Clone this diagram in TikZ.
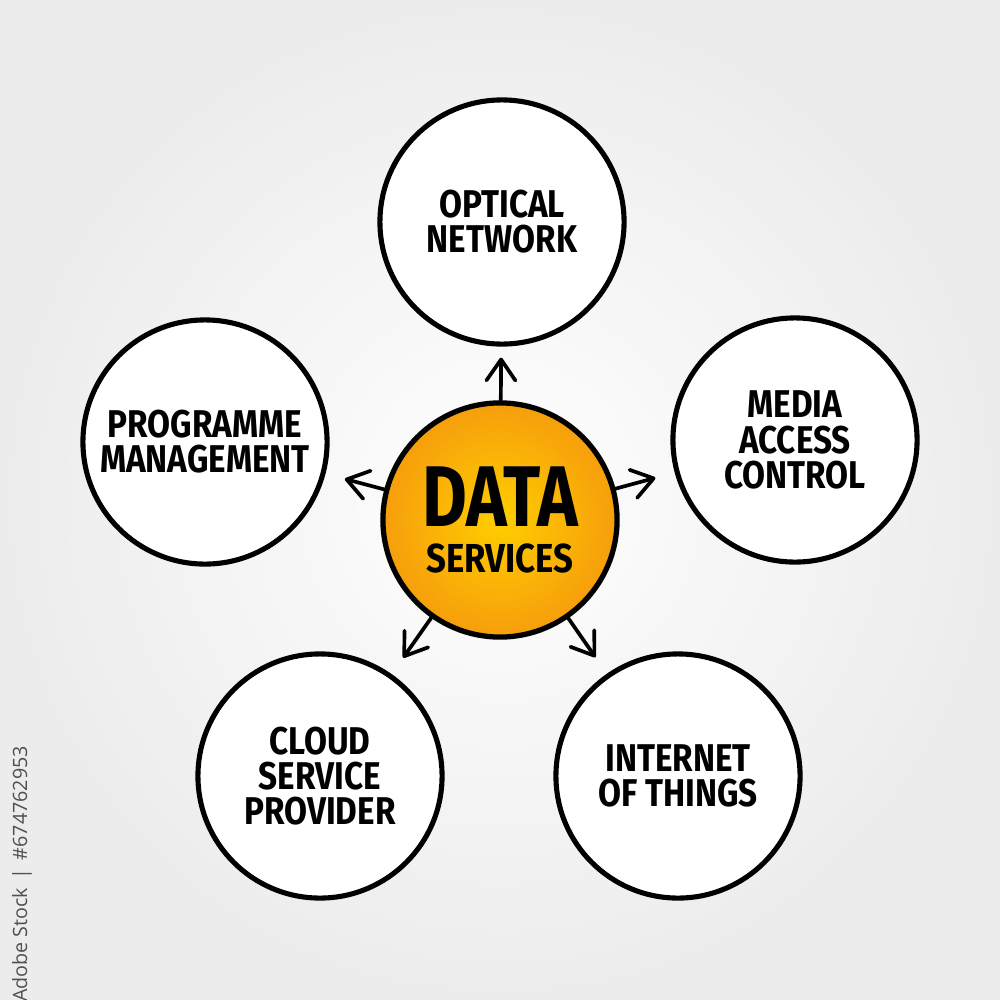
\documentclass[tikz,border=0pt]{standalone}
\usepackage{fontspec}
\usetikzlibrary{arrows.meta}
\newfontfamily\handfont{Fira Sans}[FakeStretch=0.86]
\newfontfamily\bigfont{Fira Sans}[FakeStretch=0.8]
\newfontfamily\wmfont{Open Sans}
\definecolor{bgedge}{RGB}{236,236,236}
\definecolor{coreyel}{RGB}{255,206,0}
\definecolor{coreor}{RGB}{246,158,12}
\definecolor{wmgray}{RGB}{80,80,80}
\tikzset{
  topic/.style={circle, draw=black, line width=1.45pt, fill=white,
    minimum size=2.44cm, inner sep=0pt, align=center,
    font=\handfont\bfseries\fontsize{11}{10}\selectfont},
  core/.style={circle, draw=black, line width=1.5pt,
    inner color=coreyel, outer color=coreor,
    minimum size=2.34cm, inner sep=0pt, align=center},
  arr/.style={line width=1.05pt, line cap=round,
    -{Straight Barb[length=2.1mm,width=2.9mm,line cap=round,round]}},
  wm/.style={font=\wmfont\fontsize{5.6}{6}\selectfont, text=wmgray, rotate=90}
}
\begin{document}
\begin{tikzpicture}[x=0.01cm,y=-0.01cm]
  \useasboundingbox (0,0) rectangle (1000,1000);
  \fill[inner color=white, outer color=bgedge] (0,0) rectangle (1000,1000);

  \node[topic] (t)  at (502,222) {OPTICAL\\NETWORK};
  \node[topic] (l)  at (205,442) {PROGRAMME\\MANAGEMENT};
  \node[topic] (r)  at (795,440) {MEDIA\\ACCESS\\CONTROL};
  \node[topic] (bl) at (320,776) {CLOUD\\SERVICE\\PROVIDER};
  \node[topic] (br) at (678,776) {INTERNET\\OF THINGS};

  \node[core] (c) at (500,520) {{\bigfont\bfseries\fontsize{24.5}{24}\selectfont DATA}\\[1.2pt]
    {\handfont\bfseries\fontsize{11.5}{12}\selectfont SERVICES}};

  \draw[arr, shorten >=1.1mm] (c) -- (t);
  \draw[arr, shorten >=2mm] (c) -- (l);
  \draw[arr, shorten >=2mm] (c) -- (r);
  \draw[arr, shorten >=2mm] (c) -- (bl);
  \draw[arr, shorten >=2mm] (c) -- (br);

  \node[wm] (w) at (22,874) {Adobe Stock \,|\, \#674762953};
\end{tikzpicture}
\end{document}
